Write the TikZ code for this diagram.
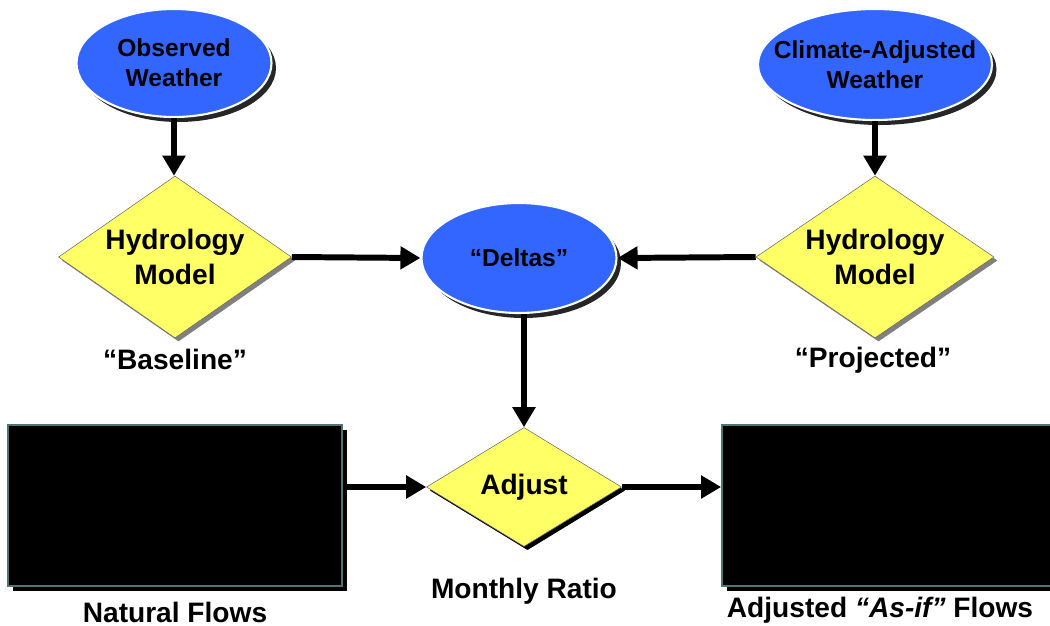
\documentclass[tikz,border=0pt]{standalone}
\usepackage{fontspec}
\setmainfont{Liberation Sans}
\usetikzlibrary{positioning,arrows.meta,shapes.geometric,shadows}

\definecolor{wxblue}{RGB}{51,102,255}
\definecolor{modelyellow}{RGB}{255,255,102}
\definecolor{boxedge}{RGB}{80,115,115}

\begin{document}
\begin{tikzpicture}[
    % blue ellipses (weather inputs, deltas)
    weather/.style={ellipse, fill=wxblue, draw=white, line width=1.2pt, inner sep=0pt,
        font=\fontsize{14}{17}\selectfont\bfseries, align=center,
        drop shadow={shadow xshift=0.09cm, shadow yshift=-0.1cm, fill=black!85, opacity=1}},
    % yellow diamonds (models, adjust step)
    model/.style={diamond, aspect=1.44, fill=modelyellow, draw=black!60, line width=0.3pt, inner sep=0pt,
        font=\fontsize{16}{19.5}\selectfont\bfseries, align=center,
        drop shadow={shadow xshift=0.07cm, shadow yshift=-0.07cm, fill=black!50, opacity=1}},
    % black flow boxes
    flowbox/.style={rectangle, fill=black, draw=boxedge, line width=1pt, inner sep=0pt,
        drop shadow={shadow xshift=0.1cm, shadow yshift=-0.1cm, fill=black, opacity=1}},
    lbl/.style={font=\fontsize{16}{19}\selectfont\bfseries},
    arr/.style={line width=3.4pt, -{Triangle[width=0.44cm,length=0.4cm]}}
]

\useasboundingbox (0,0) rectangle (21,-12.52);
\clip (0,0) rectangle (21,-12.52);

% weather inputs
\node[weather, minimum width=3.9cm, minimum height=2.16cm] (obs) at (3.48,-1.26) {Observed\\Weather};
\node[weather, inner xsep=-0.45cm, minimum width=4.68cm, minimum height=2.22cm] (clim) at (17.5,-1.29) {Climate-Adjusted\\Weather};

% hydrology models
\node[model, minimum width=4.66cm, minimum height=3.24cm] (hyd1) at (3.5,-5.14) {Hydrology\\Model};
\node[model, minimum width=4.76cm, minimum height=3.24cm] (hyd2) at (17.5,-5.14) {Hydrology\\Model};
\node[lbl] (base) at (3.5,-7.18) {``Baseline''};
\node[lbl] (proj) at (17.46,-7.2) {``Projected''};

% deltas
\node[weather, minimum width=3.9cm, minimum height=2.2cm] (deltas) at (10.38,-5.16) {``Deltas''};

% adjust step
\node[model, aspect=1.64, minimum width=3.9cm, minimum height=2.38cm,
      drop shadow={shadow xshift=0.07cm, shadow yshift=-0.07cm, fill=black, opacity=1}] (adj) at (10.48,-9.74) {Adjust};
\node[lbl] (ratio) at (10.48,-11.82) {Monthly Ratio};

% flow boxes
\node[flowbox, minimum width=6.68cm, minimum height=3.22cm] (nat) at (3.5,-10.11) {};
\node[flowbox, minimum width=6.68cm, minimum height=3.22cm] (asif) at (17.78,-10.11) {};
\node[lbl] (natlbl) at (3.5,-12.24) {Natural Flows};
\node[lbl] (asiflbl) at (17.6,-12.2) {Adjusted \textit{``As-if''} Flows};

% connectors
\draw[arr] (obs.south) -- (obs.south |- hyd1.north);
\draw[arr] (clim.south) -- (hyd2.north);
\draw[arr] (hyd1.east) -- (deltas.west);
\draw[arr] (hyd2.west) -- (deltas.east);
\draw[arr] (deltas.south -| adj.north) -- (adj.north);
\draw[arr] (nat.east |- adj.west) -- (adj.west);
\draw[arr] (adj.east) -- (asif.west |- adj.east);

\end{tikzpicture}
\end{document}
